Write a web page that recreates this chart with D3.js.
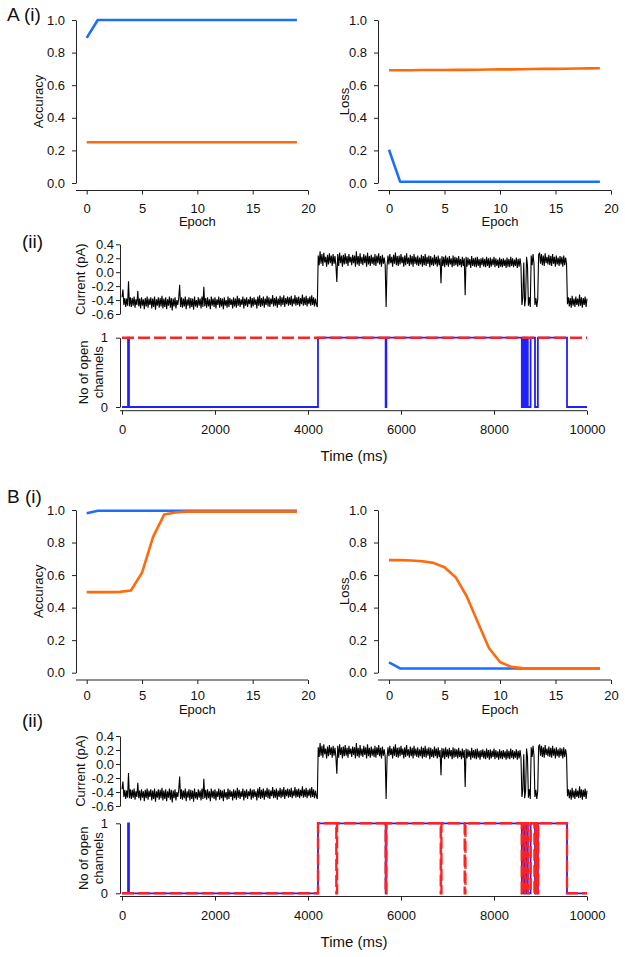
<!DOCTYPE html>
<html><head><meta charset="utf-8">
<script src="https://cdn.jsdelivr.net/npm/d3@7"></script>
<style>
body{margin:0;background:#fff}
svg text{font-family:"Liberation Sans",Arial,sans-serif;fill:#111}
</style>
</head><body>
<svg id="c" width="625" height="957"></svg>
<script>
// ---------------- DATA ----------------
const epochs = [0,1,2,3,4,5,6,7,8,9,10,11,12,13,14,15,16,17,18,19];
const epochTicks = [0,5,10,15,20];
const unitTicks = [0,0.2,0.4,0.6,0.8,1.0];
const currentTicks = [0.4,0.2,0.0,-0.2,-0.4,-0.6];
const timeTicks = [0,2000,4000,6000,8000,10000];
const channelTicks = [0,1];

// Panel A(i)
const aAccBlue   = [0.89,1,1,1,1,1,1,1,1,1,1,1,1,1,1,1,1,1,1,1];
const aAccOrange = [0.25,0.25,0.25,0.25,0.25,0.25,0.25,0.25,0.25,0.25,0.25,0.25,0.25,0.25,0.25,0.25,0.25,0.25,0.25,0.25];
const aLossBlue  = [0.204,0.008,0.008,0.008,0.008,0.008,0.008,0.008,0.008,0.008,0.008,0.008,0.008,0.008,0.008,0.008,0.008,0.008,0.008,0.008];
const aLossOrange= [0.692,0.692,0.692,0.693,0.693,0.693,0.694,0.694,0.695,0.696,0.697,0.697,0.698,0.699,0.700,0.700,0.701,0.702,0.703,0.704];

// Panel B(i)
const bAccBlue   = [0.98,0.995,0.995,0.995,0.995,0.995,0.995,0.995,0.995,0.995,0.995,0.995,0.995,0.995,0.995,0.995,0.995,0.995,0.995,0.995];
const bAccOrange = [0.495,0.495,0.495,0.497,0.505,0.615,0.835,0.972,0.985,0.99,0.99,0.99,0.99,0.99,0.99,0.99,0.99,0.99,0.99,0.99];
const bLossBlue  = [0.063,0.026,0.026,0.026,0.026,0.026,0.026,0.026,0.026,0.026,0.026,0.026,0.026,0.026,0.026,0.026,0.026,0.026,0.026,0.026];
const bLossOrange= [0.692,0.692,0.690,0.685,0.675,0.648,0.587,0.470,0.310,0.152,0.066,0.036,0.028,0.027,0.027,0.027,0.027,0.027,0.027,0.027];

// Current trace, sampled every 20 ms, values in hundredths of a pA
const sampleMs = 20;
const currentTrace = [
-36,-25,-47,-37,-50,-38,-48,-13,-49,-36,
-50,-37,-48,-35,-51,-39,-47,-27,-49,-38,
-52,-36,-48,-39,-53,-37,-49,-35,-51,-38,
-47,-36,-52,-38,-50,-35,-54,-39,-48,-36,
-51,-37,-49,-34,-52,-38,-50,-36,-53,-39,
-48,-35,-51,-37,-55,-38,-49,-36,-52,-40,
-47,-37,-18,-50,-36,-51,-38,-49,-35,-53,
-39,-48,-36,-52,-37,-50,-38,-54,-35,-49,
-40,-51,-36,-48,-38,-52,-35,-50,-21,-49,
-37,-51,-36,-49,-39,-53,-35,-48,-38,-50,
-36,-52,-39,-47,-35,-51,-37,-49,-38,-53,
-36,-48,-40,-51,-35,-50,-37,-47,-39,-52,
-36,-49,-38,-51,-34,-48,-37,-50,-39,-47,
-35,-52,-38,-48,-36,-50,-39,-46,-35,-51,
-37,-49,-36,-47,-39,-52,-35,-48,-33,-50,
-37,-48,-35,-51,-38,-47,-34,-49,-36,-50,
-38,-46,-33,-49,-37,-48,-35,-51,-38,-47,
-34,-49,-36,-47,-33,-50,-37,-46,-35,-48,
-36,-47,-34,-49,-38,-46,-33,-48,-36,-47,
-35,-49,-37,-46,-32,-48,-36,-47,-34,-49,
-37,-46,-35,-48,-33,-47,-36,-49,-38,-46,
-50,
24,10,30,12,26,9,28,14,22,
8,25,11,27,13,24,9,26,12,23,
10,-14,26,9,28,13,24,8,25,11,
27,12,23,9,26,14,22,10,25,13,
24,8,30,11,23,9,27,12,22,10,
26,13,24,8,28,11,23,9,25,12,
22,10,26,9,24,13,27,11,23,8,
25,12,21,10,-50,9,24,11,26,13,
22,8,25,12,28,10,23,9,24,11,
26,13,22,8,24,10,27,12,21,9,
25,11,23,8,26,12,22,10,24,9,
21,11,25,8,23,10,26,9,22,12,
24,7,23,10,21,9,25,11,22,8,
24,10,20,-16,23,9,22,7,24,10,
21,8,23,11,20,7,24,9,22,10,
21,8,23,10,19,7,22,9,20,-33,
22,8,21,10,19,6,23,9,20,8,
21,7,22,9,19,6,20,10,21,8,
19,7,22,9,20,6,21,8,19,10,
22,7,20,9,18,6,21,8,19,7,
20,9,18,6,21,8,19,7,22,9,
20,7,18,9,21,6,19,8,20,9,
-47,-37,14,-49,-38,22,10,-48,-36,-50,24,10,26,12,-47,-37,-50,-39,25,
28,12,26,10,24,9,27,13,22,11,25,
10,23,9,26,12,22,8,24,11,21,
9,23,11,22,8,24,10,21,12,
-46,
-36,-49,-37,-51,-34,-48,-38,-50,-35,-47,
-38,-49,-32,-48,-36,-51,-37,-47,-35,-50,-38
];

// Open-channel state changes (time in ms, number of open channels)
const truthTimes  = [0,130,150,4215,5670,5685,8598,8624,8659,8693,8727,8787,8882,8943,9570,10000];
const truthStates = [0,1,0,1,0,1,0,1,0,1,0,1,0,1,0,0];
const predATimes  = [0,10000];
const predAStates = [1,1];
const predBTimes  = [0,4215,4610,4625,5670,5685,6855,6870,7370,7385,8598,8624,8659,8693,8727,8787,8870,8890,8905,8920,8935,8950,9570,10000];
const predBStates = [0,1,0,1,0,1,0,1,0,1,0,1,0,1,0,1,0,1,0,1,0,1,0,0];

// ---------------- STYLE ----------------
const BLUE = "#1b6fff", ORANGE = "#ff6a0c", CH_BLUE = "#2020ff", CH_RED = "#ff2222", AX = "#222";
const FONT = "'Liberation Sans', Arial, sans-serif";
const svg = d3.select("#c");

function styleAxis(g, size) {
  g.attr("font-family", FONT).attr("font-size", size || 13);
  g.selectAll("path,line").attr("stroke", AX).attr("stroke-width", 1);
  g.selectAll("text").attr("fill", "#111");
}

function epochPanel(c) {
  const x = d3.scaleLinear().domain([0, 20]).range([c.xl, c.xr]);
  const y = d3.scaleLinear().domain([0, 1]).range([c.yb, c.yt]);
  const ya = svg.append("g").attr("transform", `translate(${c.ax},0)`)
    .call(d3.axisLeft(y).tickValues(unitTicks).tickFormat(d => d.toFixed(1)).tickSize(4).tickSizeOuter(0).tickPadding(7));
  styleAxis(ya);
  const xa = svg.append("g").attr("transform", `translate(0,${c.axY})`)
    .call(d3.axisBottom(x).tickValues(epochTicks).tickFormat(d3.format("d")).tickSize(4).tickSizeOuter(0).tickPadding(c.xpad));
  xa.select(".domain").attr("d", `M${c.ax},0H${c.xr}`);
  styleAxis(xa);
  const line = d3.line().x((d, i) => x(epochs[i])).y(d => y(d));
  c.series.forEach(s => {
    svg.append("path").attr("d", line(s.v)).attr("fill", "none")
      .attr("stroke", s.color).attr("stroke-width", 2.6).attr("stroke-linejoin", "round");
  });
  svg.append("text").attr("x", (c.xl + c.xr) / 2).attr("y", c.titleY).attr("text-anchor", "middle")
    .attr("font-size", 13).text("Epoch");
  svg.append("text").attr("transform", `translate(${c.labX},${(c.yb + c.yt) / 2}) rotate(-90)`)
    .attr("text-anchor", "middle").attr("dy", "0.35em").attr("font-size", 13).text(c.label);
}

const timeX = d3.scaleLinear().domain([0, 10000]).range([122, 587]);

function currentPanel(c) {
  const y = d3.scaleLinear().domain([-0.6, 0.4]).range([c.yb, c.yt]);
  const ya = svg.append("g").attr("transform", `translate(120,0)`)
    .call(d3.axisLeft(y).tickValues(currentTicks).tickFormat(d => d.toFixed(1)).tickSize(4).tickSizeOuter(0).tickPadding(2));
  styleAxis(ya);
  const line = d3.line().x((d, i) => timeX(i * sampleMs)).y(d => y(d / 100));
  svg.append("path").attr("d", line(currentTrace)).attr("fill", "none")
    .attr("stroke", "#000").attr("stroke-width", 1.1);
  svg.append("text").attr("transform", `translate(80,${(c.yb + c.yt) / 2}) rotate(-90)`)
    .attr("text-anchor", "middle").attr("dy", "0.35em").attr("font-size", 13).text("Current (pA)");
}

function channelPanel(c) {
  const y = d3.scaleLinear().domain([0, 1]).range([c.yb, c.yt]);
  const ya = svg.append("g").attr("transform", `translate(120,0)`)
    .call(d3.axisLeft(y).tickValues(channelTicks).tickFormat(d3.format("d")).tickSize(4).tickSizeOuter(0).tickPadding(8));
  styleAxis(ya);
  const xa = svg.append("g").attr("transform", `translate(0,${c.axY})`)
    .call(d3.axisBottom(timeX).tickValues(timeTicks).tickFormat(d3.format("d")).tickSize(4).tickSizeOuter(0).tickPadding(c.xpad));
  xa.select(".domain").attr("d", `M120,0H${timeX(10000)}`);
  styleAxis(xa);
  const step = (times) => d3.line().curve(d3.curveStepAfter).x((d, i) => timeX(times[i])).y(d => y(d));
  svg.append("path").attr("d", step(truthTimes)(truthStates)).attr("fill", "none")
    .attr("stroke", CH_BLUE).attr("stroke-width", 1.8);
  svg.append("path").attr("d", step(c.predTimes)(c.predStates)).attr("fill", "none")
    .attr("stroke", CH_RED).attr("stroke-width", 2.4).attr("stroke-dasharray", "12,4");
  const lab = svg.append("text").attr("transform", `translate(91,${(c.yb + c.yt) / 2}) rotate(-90)`)
    .attr("text-anchor", "middle").attr("font-size", 13);
  lab.append("tspan").attr("x", 0).attr("dy", "-0.25em").text("No of open");
  lab.append("tspan").attr("x", 0).attr("dy", "1.15em").text("channels");
  svg.append("text").attr("x", 354).attr("y", c.titleY).attr("text-anchor", "middle")
    .attr("font-size", 15).text("Time (ms)");
}

function panelLabel(txt, x, y) {
  svg.append("text").attr("x", x).attr("y", y).attr("font-size", 19).text(txt);
}

// ---------------- PANEL A ----------------
panelLabel("A (i)", 7, 21);
epochPanel({xl: 86.7, xr: 308, yb: 183, yt: 20, ax: 76, axY: 190.5, xpad: 9, titleY: 226, labX: 38, label: "Accuracy",
  series: [{v: aAccBlue, color: BLUE}, {v: aAccOrange, color: ORANGE}]});
epochPanel({xl: 389, xr: 611, yb: 183, yt: 20, ax: 378, axY: 190.5, xpad: 9, titleY: 226, labX: 344, label: "Loss",
  series: [{v: aLossBlue, color: BLUE}, {v: aLossOrange, color: ORANGE}]});
panelLabel("(ii)", 22, 248);
currentPanel({yb: 314, yt: 244.3});
channelPanel({yb: 407, yt: 337.7, axY: 410.7, xpad: 10, titleY: 461, predTimes: predATimes, predStates: predAStates});

// ---------------- PANEL B ----------------
panelLabel("B (i)", 7, 503);
epochPanel({xl: 86.7, xr: 308, yb: 672.7, yt: 510, ax: 76, axY: 680, xpad: 7, titleY: 714, labX: 38, label: "Accuracy",
  series: [{v: bAccBlue, color: BLUE}, {v: bAccOrange, color: ORANGE}]});
epochPanel({xl: 389, xr: 611, yb: 672.7, yt: 510, ax: 378, axY: 680, xpad: 7, titleY: 714, labX: 344, label: "Loss",
  series: [{v: bLossBlue, color: BLUE}, {v: bLossOrange, color: ORANGE}]});
panelLabel("(ii)", 22, 727);
currentPanel({yb: 806, yt: 736});
channelPanel({yb: 893.3, yt: 823.3, axY: 896.5, xpad: 10, titleY: 947, predTimes: predBTimes, predStates: predBStates});
</script>
</body></html>
